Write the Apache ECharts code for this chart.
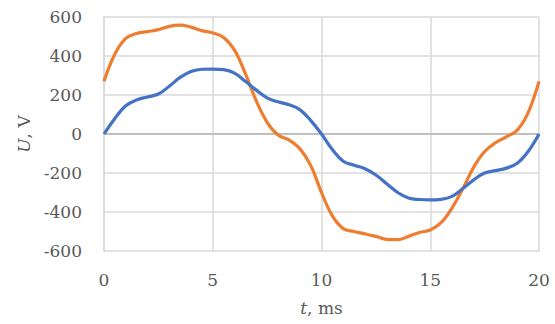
<!DOCTYPE html>
<html>
<head>
<meta charset="utf-8">
<script src="https://cdn.jsdelivr.net/npm/echarts@6/dist/echarts.min.js"></script>
<style>html,body{margin:0;padding:0;background:#fff;}#c{width:555px;height:324px;}</style>
</head>
<body>
<div id="c"></div>
<script>
var times = [0,0.5,1,1.5,2,2.5,3,3.5,4,4.5,5,5.5,6,6.5,7,7.5,8,8.5,9,9.5,10,10.5,11,11.5,12,12.5,13,13.5,14,14.5,15,15.5,16,16.5,17,17.5,18,18.5,19,19.5,20];
var blueU = [0,80,145,175,190,205,245,290,320,332,333,330,312,270,225,185,165,150,125,70,0,-80,-140,-160,-178,-210,-255,-300,-328,-336,-338,-335,-320,-280,-235,-200,-188,-175,-150,-90,0];
var orangeU = [270,410,490,515,525,535,552,558,548,530,518,495,430,310,170,60,-5,-30,-75,-160,-300,-420,-485,-500,-512,-525,-540,-542,-525,-505,-492,-455,-380,-280,-170,-90,-45,-15,20,110,270];
var xTicks = [0,5,10,15,20];
var yTicks = [-600,-400,-200,0,200,400,600];

function pairs(xs, ys){ return xs.map(function(x,i){return [x, ys[i]];}); }

var font = 'DejaVu Serif';
var gridColor = '#d9d9d9';
var chart = echarts.init(document.getElementById('c'), null, {renderer:'svg'});
chart.setOption({
  animation:false,
  backgroundColor:'#ffffff',
  grid:{left:104, right:16, top:17, bottom:73},
  xAxis:{
    type:'value', min:xTicks[0], max:xTicks[xTicks.length-1], interval:5,
    axisLine:{show:false}, axisTick:{show:false},
    axisLabel:{color:'#595959', fontFamily:font, fontSize:17, margin:20},
    splitLine:{show:true, lineStyle:{color:gridColor, width:1.5}},
    name:'{i|t}, ms', nameLocation:'middle', nameGap:48,
    nameTextStyle:{color:'#595959', fontFamily:font, fontSize:17,
      rich:{i:{fontStyle:'italic', fontFamily:font, fontSize:17, color:'#595959'}}}
  },
  yAxis:{
    type:'value', min:yTicks[0], max:yTicks[yTicks.length-1], interval:200,
    axisLine:{show:true, lineStyle:{color:gridColor, width:1.5}}, axisTick:{show:false},
    axisLabel:{color:'#595959', fontFamily:font, fontSize:17, margin:22},
    splitLine:{show:true, lineStyle:{color:gridColor, width:1.5}},
    name:'{i|U}, V', nameLocation:'middle', nameGap:64,
    nameTextStyle:{color:'#595959', fontFamily:font, fontSize:17,
      rich:{i:{fontStyle:'italic', fontFamily:font, fontSize:17, color:'#595959'}}}
  },
  series:[
    {type:'line', data:pairs(times, blueU), smooth:0.4, showSymbol:false,
      lineStyle:{color:'#4472c4', width:3.2}, z:3,
      markLine:{silent:true, symbol:['none','none'], label:{show:false},
        lineStyle:{color:'#bfbfbf', width:2, type:'solid'}, data:[{yAxis:0}], z:1}},
    {type:'line', data:pairs(times, orangeU), smooth:0.4, showSymbol:false,
      lineStyle:{color:'#ed7d31', width:3.2}, z:2}
  ]
});
</script>
</body>
</html>
